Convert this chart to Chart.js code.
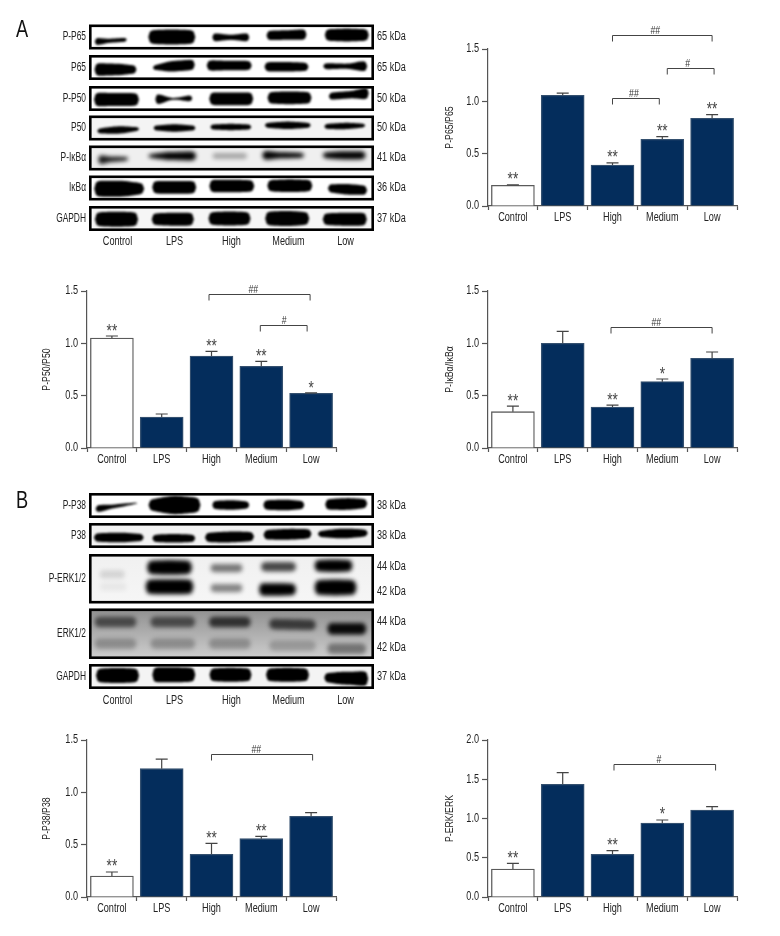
<!DOCTYPE html>
<html>
<head>
<meta charset="utf-8">
<script src="https://cdn.jsdelivr.net/npm/chart.js@4"></script>
<style>
  html, body { margin: 0; padding: 0; background: #fff; }
  canvas { position: absolute; }
</style>
</head>
<body>
<canvas id="blotA"></canvas>
<canvas id="blotB"></canvas>
<canvas id="chartP65"></canvas>
<canvas id="chartP50"></canvas>
<canvas id="chartIkb"></canvas>
<canvas id="chartP38"></canvas>
<canvas id="chartErk"></canvas>
<script>
const groups = ['Control', 'LPS', 'High', 'Medium', 'Low'];

// values and upper error
const p65Values = [0.197, 1.057, 0.392, 0.637, 0.838];
const p65Errors = [0.005, 0.022, 0.020, 0.025, 0.035];
const p65Stars = ['**', '', '**', '**', '**'];
const p65Brackets = [[2, 4, 1.637, '##', 2.86], [3.1, 4.04, 1.321, '#', 3.51], [2, 2.94, 1.035, '##', 2.43]];

const p50Values = [1.051, 0.296, 0.879, 0.780, 0.522];
const p50Errors = [0.019, 0.029, 0.045, 0.048, 0.003];
const p50Stars = ['**', '', '**', '**', '*'];
const p50Brackets = [[1.95, 3.98, 1.474, '##', 2.84], [2.98, 3.92, 1.178, '#', 3.46]];

const ikbValues = [0.347, 1.000, 0.392, 0.634, 0.857];
const ikbErrors = [0.054, 0.115, 0.018, 0.025, 0.060];
const ikbStars = ['**', '', '**', '*', ''];
const ikbBrackets = [[1.97, 4, 1.159, '##', 2.88]];

const p38Values = [0.200, 1.226, 0.408, 0.557, 0.771];
const p38Errors = [0.039, 0.092, 0.105, 0.023, 0.035];
const p38Stars = ['**', '', '**', '**', ''];
const p38Brackets = [[2, 4.03, 1.363, '##', 2.9]];

const erkValues = [0.357, 1.435, 0.544, 0.943, 1.108];
const erkErrors = [0.072, 0.149, 0.046, 0.038, 0.043];
const erkStars = ['**', '', '**', '*', ''];
const erkBrackets = [[2.03, 4.07, 1.69, '#', 2.93]];

// blot bands, one per lane: lane shift, width, y shift, tilt, thickness left/mid/right, darkness
const bandsPP65 = [[-6.7,32,3.7,-2,6,3,3,1],[-2.7,47,0,0,12,13,12,1],[-0.7,37,0.3,0,7,4,7,1],[-2,40,-2,-1,8,8,9,1],[1.3,44,-2,0,10,11,10,1]];
const bandsP65 = [[-2,42,2,0,11,10,7,1],[-0.7,42,-1.3,-3,4,9,9,1],[-2.3,45,-2,0,9,8,8,1],[-2,44,-0.7,0,8,8,7,1],[-0.3,44,-1.3,0,5,4,9,1]];
const bandsPP50 = [[-1,45,1,0,12,11,11,1],[-0.7,37,0.3,-1,9,1,5,1],[-0.3,44,0.3,0,11,11,11,1],[1,44,-0.7,0,10,11,10,1],[3.3,40,-3.7,-3,6,6,10,1]];
const bandsP50 = [[0.7,42,2,-2,4,6,3,1],[0,42,0,0,4,6,4,1],[-0.7,41,-1,0,4,5,4,1],[-0.7,46,-2.7,0,4,6,4,1],[-0.7,41,-2,-1,4,5,3,1]];
const bandsPIkb = [[-4.3,30,1.3,-1,7,3,2,0.9],[-2.3,48,-2,0,2,6,7,1],[-1.7,35,-2,0,4,4,4,0.3],[-5.3,42,-2.7,0,7,4,3,1],[-1.3,43,-2.7,0,4,6,6,1]];
const bandsIkb = [[1.7,50,0.7,0,14,14,10,1],[-0.3,44,-0.7,0,11,11,11,1],[0.3,45,-2,0,11,11,10,1],[1.3,45,-2.3,0,10,11,10,1],[2,39,1.3,2,7,9,8,1]];
const bandsGapdhA = [[-1,43,0.7,0,12,13,12,1],[-1.7,42,0.7,0,10,11,11,1],[-2,42,0,0,11,12,11,1],[-1.3,44,0,0,12,13,11,1],[-0.7,44,0.7,0,10,11,11,1]];

const bandsPP38 = [[-1,42,0.5,-6,6,2.5,0.6,1],[0,52,-0.5,0,10,16,13,1],[-0.7,37,-0.5,0,7,8,6,1],[-4.7,41,-0.5,0,8,9,7,1],[0.7,42,-1.5,-1,9,10,8,1]];
const bandsP38 = [[1.3,50,2,0,7,8,6,1],[-0.7,43,2.8,0,6,7,6,1],[-2,49,1.5,-1,8,9,8,1],[-1,48,-1.2,-1,8,9,8,1],[-2.7,50,-2,-1,5,8,6,1]];
const bandsPErk = [
  [-5.3,25,-4.3,0,6,6,6,0.12],[-5,45,-11.3,0,11,12,11,1],[-5,32,-10.7,0,6,6,6,0.5],[-10,35,-12,0,7,7,7,0.7],[-12,38,-13,0,9,10,9,1],
  [-4.3,27,8,0,6,6,6,0.05],[-5,48,8,0,12,12,12,1],[-5,32,9.3,0,6,6,6,0.45],[-11,37,10.7,0,10,10,9,1],[-10,42,8.7,0,12,13,12,1]
];
const bandsErk = [
  [-2,42,-11.7,0,8,8,8,0.55],[-1.7,45,-11.7,0,8,8,8,0.55],[-1.7,42,-11.7,0,8,8,8,0.7],[4,47,-9.3,1,8,8,8,0.65],[1.3,39,-5,0,9,9,9,0.95],
  [-2,42,10,0,8,8,8,0.25],[-1.7,45,10,0,8,8,8,0.25],[-1.7,42,10,0,8,8,8,0.25],[4,47,12,0,8,8,8,0.2],[1.3,39,15,0,8,8,8,0.4]
];
const bandsGapdhB = [[0,43,-1,0,12,13,12,1],[-0.7,43,-1.7,0,13,13,12,1],[-1,42,-1.7,0,11,12,11,1],[-1,43,-1.7,0,11,12,11,1],[0.7,44,1.7,1,8,11,13,1]];

const FONT = '"Liberation Sans", sans-serif';
const NAVY = '#042d5c';
const AXIS = '#555555';
const TEXT = '#222222';

// no condensed face is installed, so squeeze every label horizontally around its anchor
let squeeze = 0.76;
const nativeFillText = CanvasRenderingContext2D.prototype.fillText;
CanvasRenderingContext2D.prototype.fillText = function(text, x, y) {
  this.save();
  this.translate(x, y);
  this.scale(squeeze, 1);
  nativeFillText.call(this, text, 0, 0);
  this.restore();
};

// error whiskers, significance stars and brackets, all placed through the scales
const annotations = {
  id: 'annotations',
  afterDatasetsDraw(chart, args, opts) {
    const ctx = chart.ctx, x = chart.scales.x, y = chart.scales.y;
    ctx.save();
    ctx.strokeStyle = '#444444';
    ctx.lineWidth = 1.2;
    opts.values.forEach((v, i) => {
      const cx = x.getPixelForValue(i), top = y.getPixelForValue(v + opts.errors[i]);
      ctx.beginPath();
      ctx.moveTo(cx, y.getPixelForValue(v));
      ctx.lineTo(cx, top);
      if (opts.errors[i] > 0.01) {
        ctx.moveTo(cx - 6, top);
        ctx.lineTo(cx + 6, top);
      } else {
        ctx.moveTo(cx - 6, y.getPixelForValue(v) - 0.5);
        ctx.lineTo(cx + 6, y.getPixelForValue(v) - 0.5);
      }
      ctx.stroke();
      if (opts.stars[i]) {
        ctx.fillStyle = '#444444';
        ctx.font = '18px ' + FONT;
        ctx.textAlign = 'center';
        ctx.textBaseline = 'alphabetic';
        ctx.fillText(opts.stars[i], cx, top + 0.5);
      }
    });
    ctx.strokeStyle = '#444444';
    ctx.lineWidth = 1;
    opts.brackets.forEach(b => {
      const x1 = x.getPixelForValue(b[0]), x2 = x.getPixelForValue(b[1]), yy = Math.round(y.getPixelForValue(b[2])) + 0.5;
      ctx.beginPath();
      ctx.moveTo(x1, yy + 6);
      ctx.lineTo(x1, yy);
      ctx.lineTo(x2, yy);
      ctx.lineTo(x2, yy + 6);
      ctx.stroke();
      ctx.fillStyle = '#333333';
      ctx.font = '11.5px ' + FONT;
      ctx.textAlign = 'center';
      ctx.textBaseline = 'alphabetic';
      ctx.fillText(b[3], x.getPixelForValue(b[4]), yy - 2);
    });
    ctx.restore();
  }
};

function makeBarChart(id, box, title, values, errors, stars, brackets, maxY) {
  const canvas = document.getElementById(id);
  canvas.width = box.w;
  canvas.height = box.h;
  canvas.style.left = box.left + 'px';
  canvas.style.top = box.top + 'px';
  new Chart(canvas.getContext('2d'), {
    type: 'bar',
    data: {
      labels: groups,
      datasets: [{
        data: values,
        backgroundColor: groups.map((g, i) => i === 0 ? '#ffffff' : NAVY),
        borderColor: groups.map((g, i) => i === 0 ? '#5a5a5a' : '#34506f'),
        borderWidth: 1.3,
        barThickness: 43
      }]
    },
    options: {
      responsive: false,
      animation: false,
      layout: { padding: { top: box.padTop, right: box.padRight } },
      plugins: {
        legend: { display: false },
        tooltip: { enabled: false },
        annotations: { values: values, errors: errors, stars: stars, brackets: brackets }
      },
      scales: {
        x: {
          afterFit(scale) { scale.height = box.axisH; },
          grid: { drawOnChartArea: false, tickLength: 4, tickColor: AXIS, tickWidth: 1.2 },
          border: { color: AXIS, width: 1.2 },
          ticks: { color: TEXT, font: { family: FONT, size: 12 }, padding: 0, maxRotation: 0 }
        },
        y: {
          min: 0,
          max: maxY,
          afterFit(scale) { scale.width = box.axisW; },
          grid: { drawOnChartArea: false, tickLength: 6, tickColor: AXIS, tickWidth: 1.2 },
          border: { color: AXIS, width: 1.2 },
          ticks: { stepSize: 0.5, color: TEXT, font: { family: FONT, size: 12 }, padding: 3, callback: v => v.toFixed(1) },
          title: { display: true, text: title, color: TEXT, font: { family: FONT, size: 11.5 }, padding: { top: box.titlePad, bottom: 0 } }
        }
      }
    },
    plugins: [annotations]
  });
}

makeBarChart('chartP65', { left: 430, top: 20, w: 320, h: 215, padTop: 29, padRight: 13, axisW: 58, axisH: 29, titlePad: 13 },
  'P-P65/P65', p65Values, p65Errors, p65Stars, p65Brackets, 1.5);
makeBarChart('chartP50', { left: 30, top: 270, w: 320, h: 205, padTop: 21, padRight: 14, axisW: 57, axisH: 27, titlePad: 10 },
  'P-P50/P50', p50Values, p50Errors, p50Stars, p50Brackets, 1.5);
makeBarChart('chartIkb', { left: 430, top: 270, w: 320, h: 205, padTop: 21, padRight: 13, axisW: 58, axisH: 27, titlePad: 13 },
  'P-I\u03baB\u03b1/I\u03baB\u03b1', ikbValues, ikbErrors, ikbStars, ikbBrackets, 1.5);
makeBarChart('chartP38', { left: 30, top: 725, w: 320, h: 205, padTop: 15, padRight: 14, axisW: 57, axisH: 33, titlePad: 10 },
  'P-P38/P38', p38Values, p38Errors, p38Stars, p38Brackets, 1.5);
makeBarChart('chartErk', { left: 430, top: 725, w: 320, h: 205, padTop: 15, padRight: 13, axisW: 58, axisH: 33, titlePad: 13 },
  'P-ERK/ERK', erkValues, erkErrors, erkStars, erkBrackets, 2.0);

// one band as a filled outline whose thickness changes along its length
function drawBand(ctx, cx, cy, b, blur) {
  const dx = b[0], w = b[1], yShift = b[2], tilt = b[3], tl = b[4], tm = b[5], tr = b[6], dark = b[7];
  const steps = 30, upper = [], lower = [];
  for (let i = 0; i <= steps; i++) {
    const u = i / steps;
    const s = u < 0.5 ? u * 2 : (u - 0.5) * 2;
    const blend = (1 - Math.cos(s * Math.PI)) / 2;
    const t = (u < 0.5 ? tl + (tm - tl) * blend : tm + (tr - tm) * blend) * 1.1 + blur * 0.8;
    const env = Math.sqrt(Math.max(0, 1 - Math.pow(Math.abs(2 * u - 1), 12)));
    const px = cx + dx - w / 2 + w * u;
    const py = cy + yShift + tilt * (u - 0.5);
    upper.push([px, py - t * env / 2]);
    lower.push([px, py + t * env / 2]);
  }
  ctx.save();
  ctx.filter = 'blur(' + blur + 'px)';
  ctx.fillStyle = 'rgba(0,0,0,' + dark + ')';
  ctx.beginPath();
  upper.forEach((p, i) => i ? ctx.lineTo(p[0], p[1]) : ctx.moveTo(p[0], p[1]));
  lower.reverse().forEach(p => ctx.lineTo(p[0], p[1]));
  ctx.closePath();
  ctx.fill();
  ctx.restore();
}

const blotPanel = {
  id: 'blotPanel',
  afterDraw(chart, args, opts) {
    const ctx = chart.ctx, x = chart.scales.x;
    const left = x.left, right = x.right;
    ctx.save();
    opts.rows.forEach(row => {
      const w = right - left, cy = row.top + row.h / 2;
      ctx.save();
      ctx.beginPath();
      ctx.rect(left, row.top, w, row.h);
      ctx.clip();
      const grad = ctx.createLinearGradient(0, row.top, 0, row.top + row.h);
      grad.addColorStop(0, row.bg[0]);
      grad.addColorStop(1, row.bg[1]);
      ctx.fillStyle = grad;
      ctx.fillRect(left, row.top, w, row.h);
      row.bands.forEach((b, i) => drawBand(ctx, x.getPixelForValue(i % 5), cy, b, row.blur));
      ctx.restore();
      ctx.strokeStyle = '#000000';
      ctx.lineWidth = 2.6;
      ctx.strokeRect(left + 1.3, row.top + 1.3, w - 2.6, row.h - 2.6);
      ctx.fillStyle = TEXT;
      ctx.font = '12px ' + FONT;
      ctx.textBaseline = 'middle';
      ctx.textAlign = 'right';
      squeeze = 0.7;
      ctx.fillText(row.label, left - 3, cy);
      squeeze = 0.76;
      ctx.textAlign = 'left';
      row.kda.forEach(k => ctx.fillText(k[0], right + 3, cy + k[1]));
    });
    ctx.fillStyle = '#111111';
    ctx.font = '24px ' + FONT;
    ctx.textAlign = 'left';
    ctx.textBaseline = 'alphabetic';
    ctx.fillText(opts.letter, 16, opts.letterY);
    ctx.restore();
  }
};

function makeBlot(id, box, letter, letterY, rows) {
  const canvas = document.getElementById(id);
  canvas.width = 420;
  canvas.height = box.h;
  canvas.style.left = '0px';
  canvas.style.top = box.top + 'px';
  new Chart(canvas.getContext('2d'), {
    type: 'bar',
    data: { labels: groups, datasets: [{ data: [] }] },
    options: {
      responsive: false,
      animation: false,
      layout: { padding: { left: 89, right: 46, top: 2 } },
      plugins: {
        legend: { display: false },
        tooltip: { enabled: false },
        blotPanel: { rows: rows, letter: letter, letterY: letterY }
      },
      scales: {
        x: {
          afterFit(scale) { scale.height = box.axisH; },
          grid: { display: false, drawTicks: false, tickLength: 0 },
          border: { display: false },
          ticks: { color: TEXT, font: { family: FONT, size: 12 }, padding: 3, maxRotation: 0 }
        },
        y: { display: false }
      }
    },
    plugins: [blotPanel]
  });
}

const WHITE = ['#ffffff', '#ffffff'];

makeBlot('blotA', { top: 0, h: 250, axisH: 19 }, 'A', 37, [
  { label: 'P-P65', kda: [['65 kDa', 0]], top: 24.5, h: 25, bg: WHITE, blur: 0.9, bands: bandsPP65 },
  { label: 'P65', kda: [['65 kDa', 0]], top: 55, h: 25, bg: WHITE, blur: 0.9, bands: bandsP65 },
  { label: 'P-P50', kda: [['50 kDa', 0]], top: 86, h: 25, bg: WHITE, blur: 0.9, bands: bandsPP50 },
  { label: 'P50', kda: [['50 kDa', 0]], top: 115.5, h: 25, bg: ['#f4f4f4', '#f4f4f4'], blur: 1, bands: bandsP50 },
  { label: 'P-I\u03baB\u03b1', kda: [['41 kDa', 0]], top: 145.5, h: 25, bg: ['#efefef', '#efefef'], blur: 2, bands: bandsPIkb },
  { label: 'I\u03baB\u03b1', kda: [['36 kDa', 0]], top: 175.5, h: 25, bg: WHITE, blur: 0.8, bands: bandsIkb },
  { label: 'GAPDH', kda: [['37 kDa', 0]], top: 206, h: 25, bg: ['#f6f6f6', '#f6f6f6'], blur: 1, bands: bandsGapdhA }
]);

makeBlot('blotB', { top: 480, h: 240, axisH: 30 }, 'B', 28, [
  { label: 'P-P38', kda: [['38 kDa', 0]], top: 13, h: 25, bg: WHITE, blur: 0.9, bands: bandsPP38 },
  { label: 'P38', kda: [['38 kDa', 0]], top: 43, h: 25, bg: ['#f2f2f2', '#f2f2f2'], blur: 1.1, bands: bandsP38 },
  { label: 'P-ERK1/2', kda: [['44 kDa', -12], ['42 kDa', 13]], top: 74, h: 49.5, bg: ['#f0f0f0', '#f6f6f6'], blur: 2, bands: bandsPErk },
  { label: 'ERK1/2', kda: [['44 kDa', -12.5], ['42 kDa', 14]], top: 128.5, h: 50.5, bg: ['#8f8f8f', '#cfcfcf'], blur: 2.2, bands: bandsErk },
  { label: 'GAPDH', kda: [['37 kDa', 0]], top: 184, h: 25, bg: ['#f4f4f4', '#f4f4f4'], blur: 1, bands: bandsGapdhB }
]);
</script>
</body>
</html>
